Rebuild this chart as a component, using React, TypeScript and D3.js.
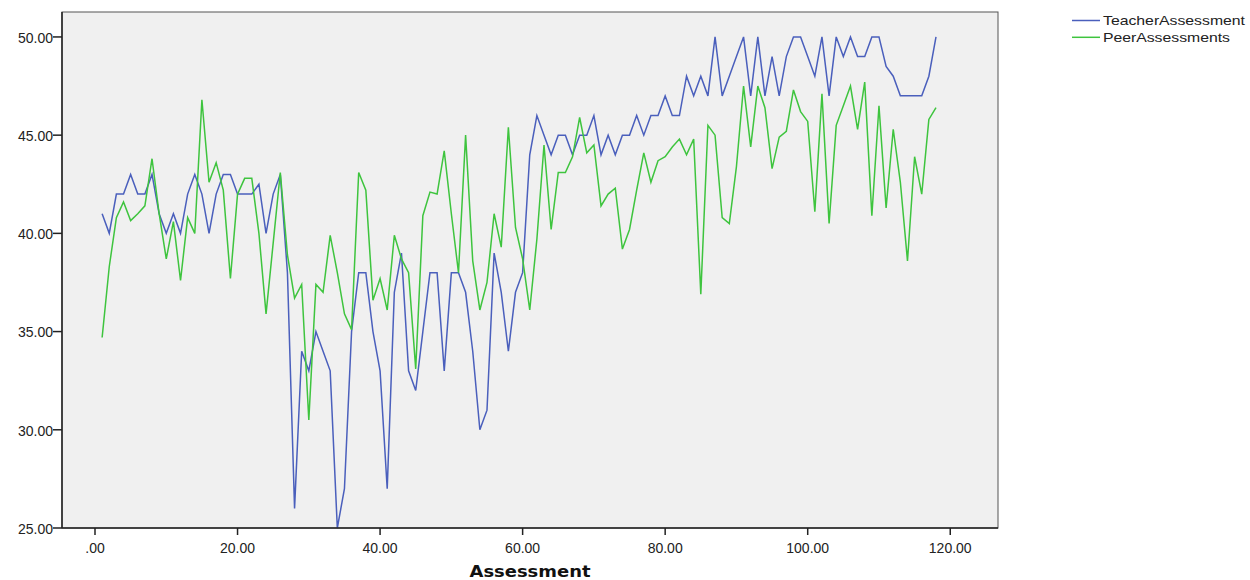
import React from "react";
import * as d3 from "d3";

const assessments: number[] = d3.range(1, 119);

const teacherAssessment: number[] = [
  41, 40, 42, 42, 43, 42, 42, 43, 41, 40,
  41, 40, 42, 43, 42, 40, 42, 43, 43, 42,
  42, 42, 42.5, 40, 42, 43, 38, 26, 34, 33,
  35, 34, 33, 25, 27, 35, 38, 38, 35, 33,
  27, 37, 39, 33, 32, 35, 38, 38, 33, 38,
  38, 37, 34, 30, 31, 39, 37, 34, 37, 38,
  44, 46, 45, 44, 45, 45, 44, 45, 45, 46,
  44, 45, 44, 45, 45, 46, 45, 46, 46, 47,
  46, 46, 48, 47, 48, 47, 50, 47, 48, 49,
  50, 47, 50, 47, 49, 47, 49, 50, 50, 49,
  48, 50, 47, 50, 49, 50, 49, 49, 50, 50,
  48.5, 48, 47, 47, 47, 47, 48, 50,
];

const peerAssessments: number[] = [
  34.7, 38.3, 40.8, 41.6, 40.65, 41.0, 41.4, 43.8, 41.0, 38.7,
  40.6, 37.6, 40.8, 40.0, 46.8, 42.6, 43.6, 42.2, 37.7, 42.0,
  42.8, 42.8, 40.0, 35.9, 39.5, 43.1, 38.9, 36.7, 37.4, 30.5,
  37.4, 37.0, 39.9, 38.0, 35.9, 35.1, 43.1, 42.2, 36.6, 37.7,
  36.1, 39.9, 38.7, 38.0, 33.1, 40.9, 42.1, 42.0, 44.2, 41.0,
  38.0, 45.0, 38.6, 36.1, 37.5, 41.0, 39.3, 45.4, 40.3, 38.7,
  36.1, 39.7, 44.5, 40.2, 43.1, 43.1, 43.9, 45.9, 44.1, 44.5,
  41.4, 42.0, 42.3, 39.2, 40.2, 42.2, 44.1, 42.6, 43.7, 43.9,
  44.4, 44.8, 44.0, 44.8, 36.9, 45.5, 45.0, 40.8, 40.5, 43.4,
  47.5, 44.4, 47.5, 46.4, 43.3, 44.9, 45.2, 47.3, 46.2, 45.7,
  41.1, 47.1, 40.5, 45.5, 46.5, 47.5, 45.3, 47.7, 40.9, 46.5,
  41.3, 45.3, 42.6, 38.6, 43.9, 42.0, 45.8, 46.4,
];

const xTicks: number[] = [0, 20, 40, 60, 80, 100, 120];
const yTicks: number[] = [25, 30, 35, 40, 45, 50];
const seriesNames: string[] = ["Teacher Assessment", "Peer Assessments"];
const seriesColors: string[] = ["#4a5fbc", "#3ec43e"];

const W = 1250;
const H = 580;
const plot = { left: 62, right: 998, top: 12, bottom: 528 };
const legendTextWidths = [142, 127];

const fmt = (v: number) => (v === 0 ? ".00" : v.toFixed(2));

export default function App() {
  const x = d3.scaleLinear().domain([-4.63, 126.7]).range([plot.left, plot.right]);
  const y = d3.scaleLinear().domain([25, 51.27]).range([plot.bottom, plot.top]);

  const line = d3
    .line<number>()
    .x((_, i) => x(assessments[i]))
    .y((d) => y(d));

  const series = [teacherAssessment, peerAssessments];
  const font = "'Liberation Sans', Arial, sans-serif";

  return (
    <svg
      width={W}
      height={H}
      style={{ position: "absolute", left: 0, top: 0, display: "block", background: "#fff" }}
      fontFamily={font}
    >
      <rect
        x={plot.left}
        y={plot.top}
        width={plot.right - plot.left}
        height={plot.bottom - plot.top}
        fill="#f0f0f0"
        stroke="#555"
        strokeWidth={1}
      />
      {series.map((s, k) => (
        <path
          key={k}
          d={line(s) || ""}
          fill="none"
          stroke={seriesColors[k]}
          strokeWidth={1.5}
          strokeLinejoin="miter"
        />
      ))}
      {/* axes */}
      <line x1={plot.left} x2={plot.right} y1={plot.bottom} y2={plot.bottom} stroke="#222" strokeWidth={1.5} />
      <line x1={plot.left} x2={plot.left} y1={plot.top} y2={plot.bottom} stroke="#222" strokeWidth={1.5} />
      {yTicks.map((t) => (
        <g key={"y" + t}>
          <line x1={plot.left - 9} x2={plot.left} y1={y(t)} y2={y(t)} stroke="#222" strokeWidth={1.5} />
          <text x={plot.left - 9} y={y(t)} dy="0.42em" textAnchor="end" fontSize={14} fill="#222">
            {fmt(t)}
          </text>
        </g>
      ))}
      {xTicks.map((t) => (
        <g key={"x" + t}>
          <line x1={x(t)} x2={x(t)} y1={plot.bottom} y2={plot.bottom + 7} stroke="#222" strokeWidth={1.5} />
          <text x={x(t)} y={plot.bottom + 25} textAnchor="middle" fontSize={14} fill="#222">
            {fmt(t)}
          </text>
        </g>
      ))}
      <text
        x={530}
        y={577}
        textAnchor="middle"
        fontSize={16}
        fontWeight="bold"
        fill="#111"
        fontFamily="'DejaVu Sans', Verdana, sans-serif"
        textLength={121}
        lengthAdjust="spacingAndGlyphs"
      >
        Assessment
      </text>
      {/* legend */}
      {seriesNames.map((n, k) => (
        <g key={n}>
          <line
            x1={1072}
            x2={1100}
            y1={20.5 + k * 16.8}
            y2={20.5 + k * 16.8}
            stroke={seriesColors[k]}
            strokeWidth={1.5}
          />
          <text
            x={1103}
            y={20.5 + k * 16.8}
            dy="0.36em"
            fontSize={13}
            fill="#222"
            wordSpacing={-3}
            textLength={legendTextWidths[k]}
            lengthAdjust="spacingAndGlyphs"
          >
            {n}
          </text>
        </g>
      ))}
    </svg>
  );
}
